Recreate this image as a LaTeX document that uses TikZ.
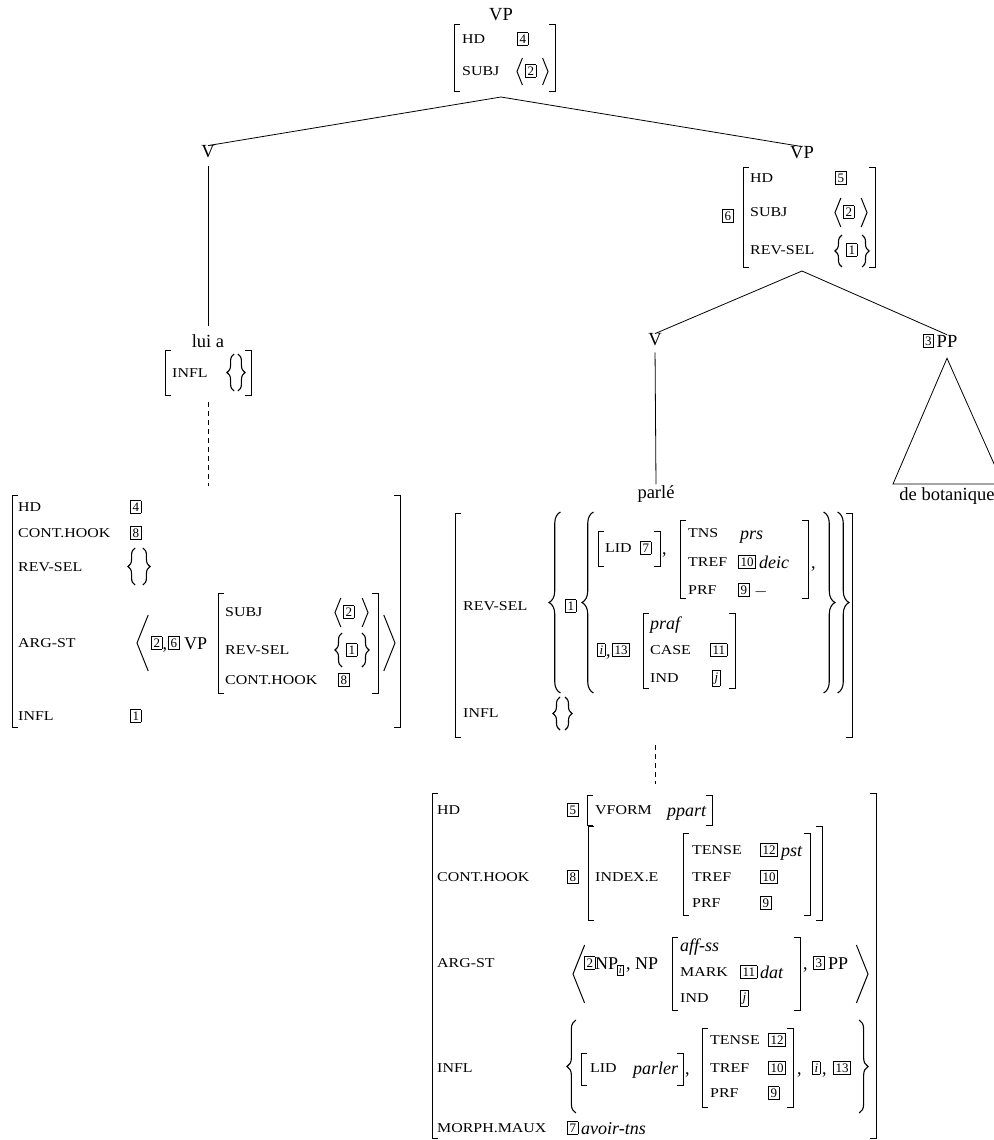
\documentclass[tikz,border=0pt]{standalone}
\usepackage{fontspec}
\usetikzlibrary{decorations.pathreplacing}
\setmainfont{Liberation Serif}
\newfontfamily\featfont[FakeStretch=1.18]{Liberation Serif}
\newcommand\tg[1]{{\setlength\fboxsep{1.7pt}\setlength\fboxrule{0.6pt}\fbox{\fontsize{13}{13}\selectfont\rule{0pt}{8.9pt}#1}}}
\newcommand\tgs[1]{{\setlength\fboxsep{1.2pt}\setlength\fboxrule{0.5pt}\fbox{\fontsize{10.5}{10.5}\selectfont\itshape\rule{0pt}{7.2pt}#1}}}
\newcommand\LBk[3]{\draw[dl] ({#1+6},#2) -- (#1,#2) -- (#1,#3) -- ({#1+6},#3);}
\newcommand\RBk[3]{\draw[dl] ({#1-6},#2) -- (#1,#2) -- (#1,#3) -- ({#1-6},#3);}
\newcommand\LAng[3]{\draw[dl] ({#1+0.2*(#3-#2)},#2) -- (#1,{(#2+#3)/2}) -- ({#1+0.2*(#3-#2)},#3);}
\newcommand\RAng[3]{\draw[dl] ({#1-0.2*(#3-#2)},#2) -- (#1,{(#2+#3)/2}) -- ({#1-0.2*(#3-#2)},#3);}
% curly braces: x = tip, #2 = top, #3 = bottom
\newcommand\LBr[3]{%
 \pgfmathsetmacro\brw{6+0.03*(#3-#2)}%
 \draw[bl, decorate, decoration={brace, amplitude=\brw pt}] ({#1+\brw},#3) -- ({#1+\brw},#2);}
\newcommand\RBr[3]{%
 \pgfmathsetmacro\brw{6+0.03*(#3-#2)}%
 \draw[bl, decorate, decoration={brace, amplitude=\brw pt}] ({#1-\brw},#2) -- ({#1-\brw},#3);}
\tikzset{
 trl/.style={inner sep=0pt, font=\fontsize{18.5}{21}\selectfont},
 ft/.style={anchor=west, inner sep=0pt, text height=8.9pt, text depth=0pt, font=\featfont\fontsize{13.5}{15}\selectfont},
 vl/.style={anchor=west, inner sep=0pt, text height=12pt, text depth=0pt, font=\fontsize{18}{21}\selectfont},
 itv/.style={anchor=west, inner sep=0pt, text height=12pt, text depth=0pt, font=\fontsize{18}{21}\selectfont\itshape},
 tgn/.style={anchor=west, inner sep=0pt},
 dl/.style={line width=1pt},
 bl/.style={line width=1.1pt},
 tl/.style={line width=0.8pt},
 dsh/.style={line width=0.8pt, dash pattern=on 5pt off 4pt},
}
\begin{document}
\begin{tikzpicture}[x=1pt,y=-1pt]
\useasboundingbox (0,0) rectangle (993,1140);
% ---------- top VP ----------
\node[trl] (vp0) at (501,15) {VP};
\LBk{454}{25}{91} \RBk{555}{25}{91}
\node[ft] (a1) at (462,39) {HD};
\node[tgn] (a2) at (517,39) {\tg{4}};
\node[ft] (a3) at (462,71) {SUBJ};
\LAng{517}{58}{85}
\node[tgn] (a4) at (525,71) {\tg{2}};
\RAng{548}{58}{85}
\coordinate (c0) at (501,97);
% ---------- left V ----------
\node[trl] (v1) at (208,152) {V};
\draw[tl] (c0) -- (v1.north);
\node[trl] (lui) at (208,341) {lui a};
\draw[tl, shorten <=8pt, shorten >=8pt] (v1.south) -- (lui.north);
\LBk{165}{350}{395} \RBk{251}{350}{395}
\node[ft] (b1) at (172,373) {INFL};
\LBr{227}{354}{391} \RBr{245}{354}{391}
\coordinate (d1) at (208,402);
\coordinate (d2) at (208,486);
\draw[dsh] (d1) -- (d2);
% ---------- left big AVM ----------
\LBk{12}{495}{727} \RBk{400}{495}{727}
\node[ft] (l1) at (18,507) {HD};
\node[ft] (l2) at (18,533) {CONT.HOOK};
\node[ft] (l3) at (18,567) {REV-SEL};
\node[ft] (l4) at (18,643) {ARG-ST};
\node[ft] (l5) at (18,716) {INFL};
\node[tgn] (l6) at (130,507) {\tg{4}};
\node[tgn] (l7) at (130,533) {\tg{8}};
\LBr{128}{548}{585} \RBr{150}{548}{585}
\LAng{137}{615}{671}
\node[tgn] (l8) at (151,643) {\tg{2}};
\node[vl] (l9) at (162.5,643) {,};
\node[tgn] (l10) at (168,643) {\tg{6}};
\node[vl] (l11) at (184,643) {VP};
\LBk{218}{593}{693} \RBk{378}{593}{693}
\node[ft] (l12) at (225,612) {SUBJ};
\node[ft] (l13) at (225,650) {REV-SEL};
\node[ft] (l14) at (225,680) {CONT.HOOK};
\LAng{335}{598}{627}
\node[tgn] (l15) at (343,612) {\tg{2}};
\RAng{368}{598}{627}
\LBr{335}{633}{667}
\node[tgn] (l16) at (346,650) {\tg{1}};
\RBr{369}{633}{667}
\node[tgn] (l17) at (338,680) {\tg{8}};
\RAng{395}{615}{671}
\node[tgn] (l18) at (130,716) {\tg{1}};
% ---------- right VP ----------
\node[trl] (vp1) at (802,153) {VP};
\draw[tl] (c0) -- (vp1.north);
\node[tgn] (r0) at (722,216) {\tg{6}};
\LBk{743}{167}{267} \RBk{875}{167}{267}
\node[ft] (r1) at (750,178) {HD};
\node[ft] (r2) at (750,212) {SUBJ};
\node[ft] (r3) at (750,250) {REV-SEL};
\node[tgn] (r4) at (835,178) {\tg{5}};
\LAng{835}{198}{227}
\node[tgn] (r5) at (843,212) {\tg{2}};
\RAng{867}{198}{227}
\LBr{835}{235}{267}
\node[tgn] (r6) at (846,250) {\tg{1}};
\RBr{869}{235}{267}
\coordinate (c1) at (802,271);
% ---------- V right, PP ----------
\node[trl] (v2) at (655,340) {V};
\draw[tl] (c1) -- (v2.north);
\node[trl] (pp) at (947,341) {PP};
\node[tgn, anchor=east] (t3) at (934,341) {\tg{3}};
\draw[tl] (c1) -- (pp.north);
\coordinate (tr1) at (893,484);
\coordinate (tr2) at (1003,484);
\draw[tl] ([yshift=-11pt]pp.south) -- (tr1) -- (tr2) -- cycle;
\node[trl] (bot) at (947,496) {de botanique};
\node[trl] (parle) at (656,494) {parlé};
\draw[tl, shorten <=6pt, shorten >=1pt] (v2.south) -- (parle.north);
% ---------- middle AVM ----------
\LBk{455}{513}{737} \RBk{852}{513}{737}
\node[ft] (m1) at (463,606) {REV-SEL};
\node[ft] (m2) at (463,713) {INFL};
\LBr{549}{512}{693}
\node[tgn] (m3) at (565,606) {\tg{1}};
\LBr{582}{512}{693}
\LBk{598}{531}{566}
\node[ft] (m4) at (605,548) {LID};
\node[tgn] (m5) at (640,548) {\tg{7}};
\RBk{660}{531}{566}
\node[vl] (m6) at (662,548) {,};
\LBk{680}{520}{598}
\node[ft] (m7) at (688,533) {TNS};
\node[ft] (m8) at (688,562) {TREF};
\node[ft] (m9) at (688,590) {PRF};
\node[itv] (m10) at (740,533) {prs};
\node[tgn] (m11) at (738,562) {\tg{10}};
\node[itv] (m12) at (759,562) {deic};
\node[tgn] (m13) at (738,590) {\tg{9}};
\node[vl] (m14) at (754,590) {$-$};
\RBk{808}{520}{598}
\node[vl] (m15) at (811,562) {,};
\node[tgn] (m16) at (597,650) {\tg{\itshape i}};
\node[vl] (m17) at (606,650) {,};
\node[tgn] (m18) at (612,650) {\tg{13}};
\LBk{643}{613}{688}
\node[itv] (m19) at (650,623) {praf};
\node[ft] (m20) at (650,650) {CASE};
\node[tgn] (m21) at (710,650) {\tg{11}};
\node[ft] (m22) at (650,678) {IND};
\node[tgn] (m23) at (712,678) {\tg{\itshape j}};
\RBk{735}{613}{688}
\RBr{835}{512}{693}
\RBr{849}{512}{693}
\LBr{553}{697}{730} \RBr{572}{697}{730}
\coordinate (d3) at (655,745);
\coordinate (d4) at (655,784);
\draw[dsh] (d3) -- (d4);
% ---------- lower AVM ----------
\LBk{432}{793}{1138} \RBk{876}{793}{1138}
\node[ft] (k1) at (437,810) {HD};
\node[ft] (k2) at (437,877) {CONT.HOOK};
\node[ft] (k3) at (437,963) {ARG-ST};
\node[ft] (k4) at (437,1068) {INFL};
\node[ft] (k5) at (437,1128) {MORPH.MAUX};
% HD
\node[tgn] (k6) at (567,810) {\tg{5}};
\LBk{587}{795}{825}
\node[ft] (k7) at (595,810) {VFORM};
\node[itv] (k8) at (667,810) {ppart};
\RBk{712}{795}{825}
% CONT.HOOK
\node[tgn] (k9) at (567,877) {\tg{8}};
\LBk{588}{826}{920}
\node[ft] (k10) at (595,877) {INDEX.E};
\LBk{683}{833}{915}
\node[ft] (k11) at (692,850) {TENSE};
\node[ft] (k12) at (692,877) {TREF};
\node[ft] (k13) at (692,903) {PRF};
\node[tgn] (k14) at (760,850) {\tg{12}};
\node[itv] (k15) at (781,850) {pst};
\node[tgn] (k16) at (760,877) {\tg{10}};
\node[tgn] (k17) at (760,903) {\tg{9}};
\RBk{810}{833}{915}
\RBk{822}{826}{920}
% ARG-ST
\LAng{573}{945}{1003}
\node[tgn] (k18) at (584,963) {\tg{2}};
\node[vl] (k19) at (595,963) {NP};
\node[tgn] (k20) at (617,970) {\tgs{i}};
\node[vl] (k21) at (626,963) {, NP};
\LBk{672}{937}{1010}
\node[itv] (k22) at (680,945) {aff-ss};
\node[ft] (k23) at (680,972) {MARK};
\node[tgn] (k24) at (740,972) {\tg{11}};
\node[itv] (k25) at (760,972) {dat};
\node[ft] (k26) at (680,998) {IND};
\node[tgn] (k27) at (740,998) {\tg{\itshape j}};
\RBk{800}{937}{1010}
\node[vl] (k28) at (803,963) {,};
\node[tgn] (k29) at (813,963) {\tg{3}};
\node[vl] (k30) at (828,963) {PP};
\RAng{868}{945}{1003}
% INFL
\LBr{567}{1020}{1113}
\LBk{581}{1053}{1085}
\node[ft] (k31) at (590,1068) {LID};
\node[itv] (k32) at (633,1068) {parler};
\RBk{683}{1053}{1085}
\node[vl] (k33) at (685,1068) {,};
\LBk{702}{1028}{1107}
\node[ft] (k34) at (710,1040) {TENSE};
\node[ft] (k35) at (710,1068) {TREF};
\node[ft] (k36) at (710,1093) {PRF};
\node[tgn] (k37) at (768,1040) {\tg{12}};
\node[tgn] (k38) at (768,1068) {\tg{10}};
\node[tgn] (k39) at (768,1093) {\tg{9}};
\RBk{793}{1028}{1107}
\node[vl] (k40) at (797,1068) {,};
\node[tgn] (k41) at (812,1068) {\tg{\itshape i}};
\node[vl] (k42) at (822,1068) {,};
\node[tgn] (k43) at (833,1068) {\tg{13}};
\RBr{868}{1020}{1113}
% MORPH.MAUX
\node[tgn] (k44) at (567,1128) {\tg{7}};
\node[itv] (k45) at (581,1128) {avoir-tns};
\end{tikzpicture}
\end{document}
